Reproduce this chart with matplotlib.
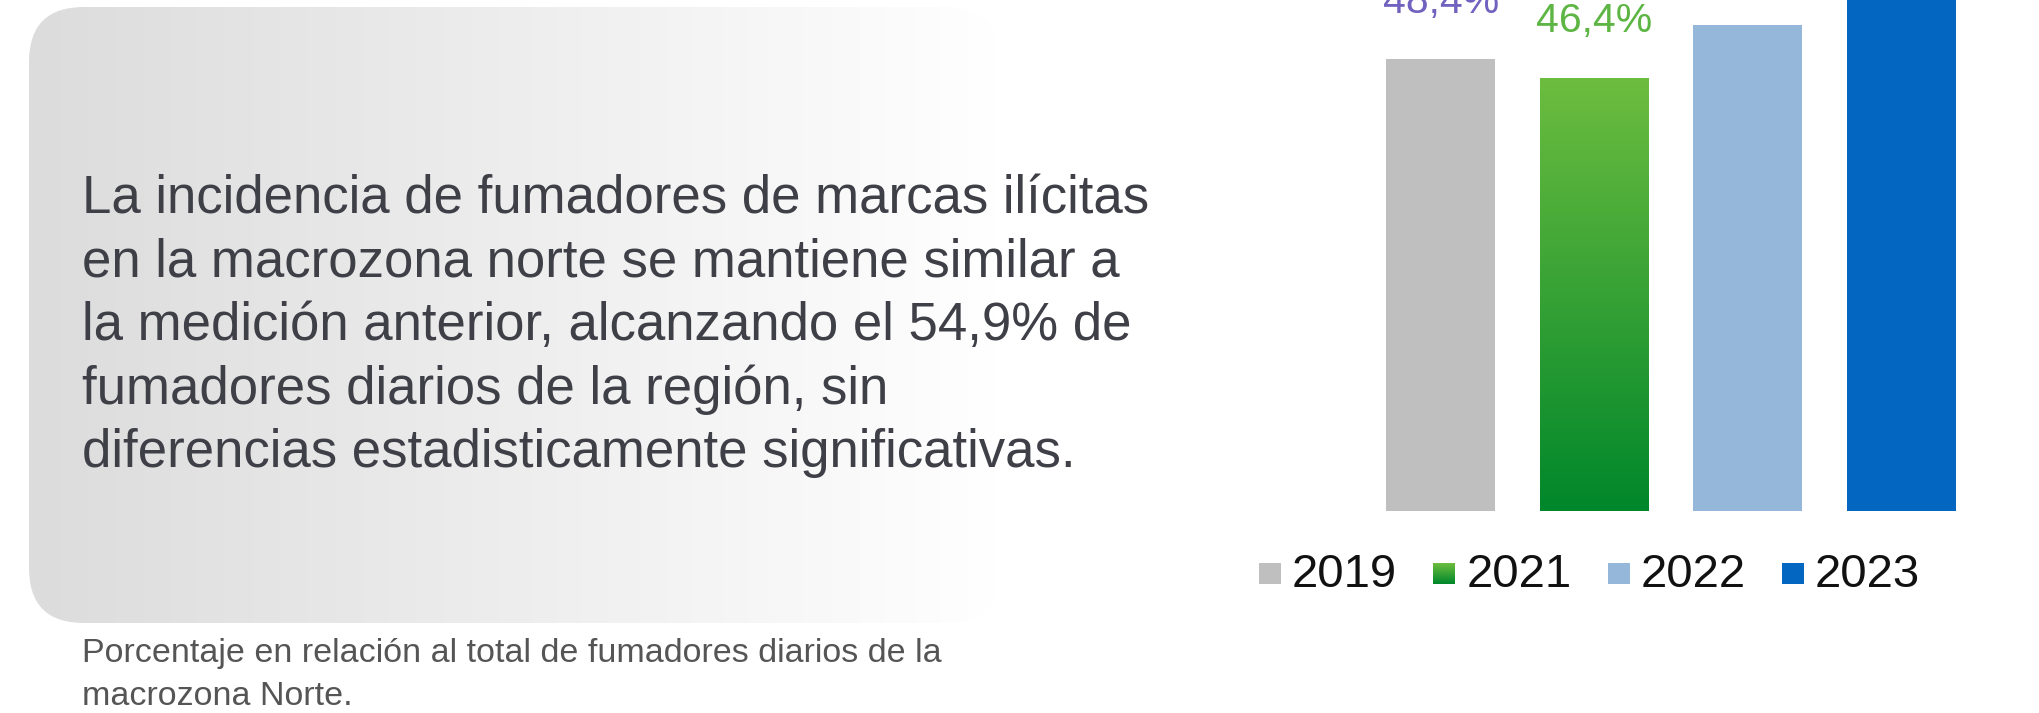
"""Illicit-brand smokers in the northern macrozone: text panel plus yearly bars."""

import matplotlib

matplotlib.use("Agg")
import matplotlib.pyplot as plt
import numpy as np
from matplotlib.colors import LinearSegmentedColormap
from matplotlib.patches import FancyBboxPatch, Rectangle

plt.rcParams["font.family"] = ["Liberation Sans", "DejaVu Sans"]

years = ["2019", "2021", "2022", "2023"]
values = [48.4, 46.4, 52.0, 54.9]
# labels of 2022/2023 sit above the visible frame in the source picture
value_labels = ["48,4%", "46,4%", None, None]
bar_colors = ["#BFBFBF", "#6DBD3F", "#94B7DA", "#0366C1"]
label_colors = ["#7262BF", "#5DB543", "#94B7DA", "#0366C1"]
green_gradient = ["#00872B", "#6DBD3F"]  # bottom -> top

headline = [
    "La incidencia de fumadores de marcas ilícitas",
    "en la macrozona norte se mantiene similar a",
    "la medición anterior, alcanzando el 54,9% de",
    "fumadores diarios de la región, sin",
    "diferencias estadisticamente significativas.",
]
footnote = [
    "Porcentaje en relación al total de fumadores diarios de la",
    "macrozona Norte.",
]

W, H = 2039, 713
fig = plt.figure(figsize=(W / 100, H / 100), dpi=100)

# background layer in pixel coordinates (y grows downwards)
bg = fig.add_axes([0, 0, 1, 1])
bg.set_xlim(0, W)
bg.set_ylim(H, 0)
bg.axis("off")

panel = FancyBboxPatch((29, 7), 971, 616, boxstyle="round,pad=0,rounding_size=55",
                       facecolor="none", edgecolor="none")
bg.add_patch(panel)
panel_cmap = LinearSegmentedColormap.from_list("panel", ["#DCDCDC", "#FFFFFF"])
im = bg.imshow(np.linspace(0, 1, 256).reshape(1, -1), extent=(29, 1000, 623, 7),
               cmap=panel_cmap, aspect="auto", interpolation="bicubic")
im.set_clip_path(panel)
bg.set_xlim(0, W)
bg.set_ylim(H, 0)

for i, line in enumerate(headline):
    bg.text(82, 213 + i * 63.6, line, fontsize=38, color="#3E3F47", va="baseline")

for i, line in enumerate(footnote):
    bg.text(82, 662 + i * 43, line, fontsize=24.5, color="#555555", va="baseline")

# legend drawn by hand
green_cmap = LinearSegmentedColormap.from_list("green", green_gradient)
for i, (yr, col) in enumerate(zip(years, bar_colors)):
    x0 = 1259 + i * 174.3
    if yr == "2021":
        sq = Rectangle((x0, 563), 22, 21, facecolor="none", edgecolor="none")
        bg.add_patch(sq)
        gim = bg.imshow(np.linspace(1, 0, 64).reshape(-1, 1), extent=(x0, x0 + 22, 584, 563),
                        cmap=green_cmap, aspect="auto")
        gim.set_clip_path(sq)
    else:
        bg.add_patch(Rectangle((x0, 563), 22, 21, facecolor=col, edgecolor="none"))
    bg.text(x0 + 33, 587, yr, fontsize=34, color="#111111", va="baseline")
bg.set_xlim(0, W)
bg.set_ylim(H, 0)

# bar chart
px_per_unit = 9.34
ax = fig.add_axes([1364 / W, (H - 511) / H, 614 / W, 511 / H])
ax.patch.set_alpha(0)
x = np.arange(len(years))
bars = ax.bar(x, values, width=0.71, color=bar_colors)

green_bar = bars[1]
green_bar.set_facecolor("none")
bx = green_bar.get_x()
gim = ax.imshow(np.linspace(0, 1, 256).reshape(-1, 1), origin="lower",
                extent=(bx, bx + green_bar.get_width(), 0, green_bar.get_height()),
                cmap=green_cmap, aspect="auto")
gim.set_clip_path(green_bar)

for xi, v, lbl, c in zip(x, values, value_labels, label_colors):
    if lbl is None:
        continue
    ax.annotate(lbl, (xi, v), xytext=(0, 33), textcoords="offset points",
                ha="center", va="baseline", fontsize=29.5, color=c, annotation_clip=False)

ax.set_xlim(-0.5, len(years) - 0.5)
ax.set_ylim(0, 511 / px_per_unit)
ax.axis("off")

fig.savefig("out.png", dpi=100)
